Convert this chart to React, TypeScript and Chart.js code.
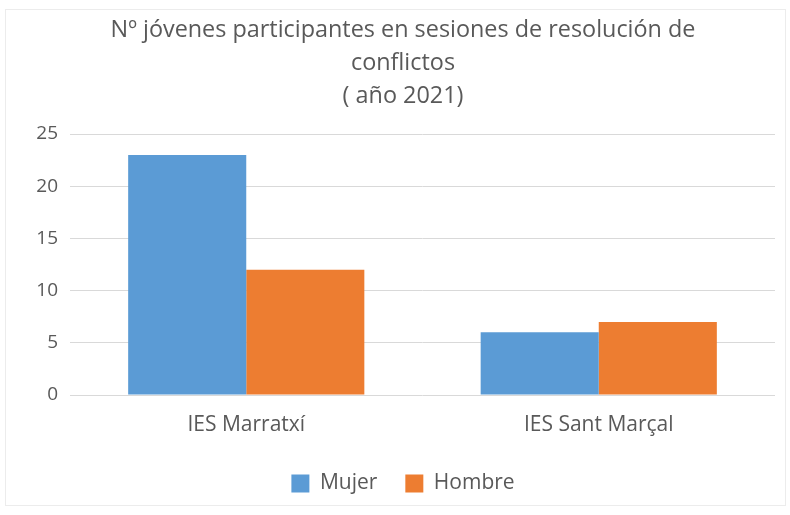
import React, { useEffect, useRef } from "react";
import { Chart, registerables } from "chart.js";

Chart.register(...registerables);

const categories = ["IES Marratxí", "IES Sant Marçal"];
const mujerValues = [23, 6];
const hombreValues = [12, 7];
const titleLines = [
  "Nº jóvenes participantes en sesiones de resolución de",
  "conflictos",
  "( año 2021)",
];

export default function App() {
  const ref = useRef<HTMLCanvasElement | null>(null);
  useEffect(() => {
    document.body.style.margin = "0";
    const ctx = ref.current!;
    const chart = new Chart(ctx, {
      type: "bar",
      data: {
        labels: categories,
        datasets: [
          { label: "Mujer", data: mujerValues, backgroundColor: "#5B9BD5", categoryPercentage: 0.67, barPercentage: 1 },
          { label: "Hombre", data: hombreValues, backgroundColor: "#ED7D31", categoryPercentage: 0.67, barPercentage: 1 },
        ],
      },
      options: {
        animation: false,
        responsive: false,
        maintainAspectRatio: false,
        layout: { padding: { left: 31, right: 15, top: 10, bottom: 11 } },
        plugins: {
          title: {
            display: true,
            text: titleLines,
            color: "#595959",
            font: { family: "Open Sans", size: 23.4, weight: "normal", lineHeight: 33 / 23.4 },
            padding: { top: 4, bottom: 21 },
          },
          legend: {
            position: "bottom",
            labels: {
              color: "#595959",
              font: { family: "Open Sans", size: 21 },
              boxWidth: 18,
              boxHeight: 18,
              padding: 28,
            },
          },
          tooltip: { enabled: false },
        },
        scales: {
          x: {
            grid: { display: false },
            border: { display: false },
            ticks: { color: "#595959", font: { family: "Open Sans", size: 21 }, padding: 9 },
            afterFit: (scale: any) => { scale.height = 50; },
          },
          y: {
            min: 0,
            max: 25,
            ticks: { stepSize: 5, color: "#595959", font: { family: "Open Sans", size: 19 }, padding: 12 },
            grid: { color: "#d9d9d9", drawTicks: false },
            border: { display: false },
            afterFit: (scale: any) => { scale.width = 39; },
          },
        },
      },
    });
    return () => chart.destroy();
  }, []);
  return (
    <div style={{ position: "relative", width: 790, height: 515, background: "#fff" }}>
      <div style={{ position: "absolute", left: 5, top: 9, width: 779, height: 495, border: "1px solid #ececec" }} />
      <canvas ref={ref} width={790} height={515} style={{ position: "absolute", left: 0, top: 0 }} />
    </div>
  );
}
